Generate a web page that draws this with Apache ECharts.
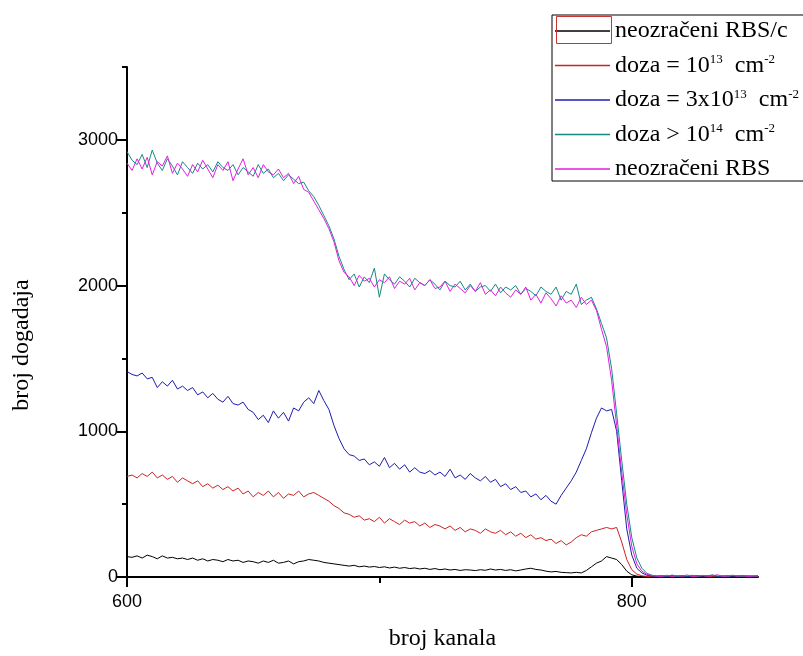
<!DOCTYPE html>
<html>
<head>
<meta charset="utf-8">
<script src="https://cdn.jsdelivr.net/npm/echarts@6/dist/echarts.min.js"></script>
<style>html,body{margin:0;padding:0;background:#fff}#c{width:803px;height:656px}</style>
</head>
<body>
<div id="c"></div>
<script>
// channel grid: 600..850, step 2
const CH_START = 600, CH_STEP = 2;

const seriesNames = [
  'neozračeni RBS/c',
  'doza = 10^13 cm^-2',
  'doza = 3x10^13 cm^-2',
  'doza > 10^14 cm^-2',
  'neozračeni RBS'
];

const xTickLabels = [600, 800];
const yTickLabels = [0, 1000, 2000, 3000];

// neozračeni RBS/c (black)
const rbsC = [
  140,135,145,130,150,140,125,145,130,135,
  125,130,120,130,115,125,110,120,115,105,
  120,110,115,100,110,105,95,110,100,115,
  95,100,110,90,105,110,120,115,110,100,
  95,90,85,80,75,80,70,75,68,72,
  65,70,62,68,60,65,58,62,55,60,
  52,58,50,55,48,52,45,50,48,44,
  50,46,55,48,52,45,50,42,48,55,
  60,52,48,40,35,38,32,30,28,32,
  28,45,70,95,110,140,130,120,85,40,
  15,6,3,2,1,1,1,0,2,0,
  1,0,1,2,0,1,0,1,0,2,
  1,0,1,0,1,0
];

// doza = 10^13 cm^-2 (red)
const doza13 = [
  690,700,680,710,690,720,680,700,670,690,
  650,680,660,640,660,620,640,610,630,600,
  620,590,610,570,590,550,580,560,590,550,
  580,540,570,560,590,550,570,580,560,540,
  520,490,470,440,430,410,420,390,400,380,
  410,370,400,380,360,390,370,380,350,370,
  340,360,350,330,350,320,340,310,330,320,
  300,330,310,300,320,290,310,280,300,270,
  290,260,270,250,260,230,250,220,240,270,
  290,280,310,320,330,340,330,340,240,120,
  50,20,8,4,2,2,3,1,4,2,
  0,3,2,5,1,2,4,0,3,2,
  1,4,2,3,1,2
];

// doza = 3x10^13 cm^-2 (blue)
const doza3x13 = [
  1410,1390,1380,1400,1360,1370,1300,1340,1310,1350,
  1290,1310,1280,1300,1250,1270,1230,1260,1220,1200,
  1240,1190,1180,1200,1150,1130,1080,1110,1060,1140,
  1090,1130,1070,1160,1140,1200,1230,1190,1280,1210,
  1150,1040,950,880,840,830,800,810,770,790,
  760,820,750,780,740,770,720,750,720,710,
  730,700,720,690,740,680,700,670,710,680,
  660,690,650,670,620,640,600,620,580,590,
  550,570,530,560,520,500,560,610,660,720,
  800,880,990,1090,1160,1140,1150,1000,660,330,
  150,60,28,12,8,5,8,4,11,6,
  9,3,7,10,5,8,12,4,6,9,
  5,7,10,4,6,8
];

// doza > 10^14 cm^-2 (teal)
const doza14 = [
  2920,2860,2830,2900,2810,2930,2840,2790,2870,2820,
  2760,2850,2810,2770,2840,2800,2830,2780,2850,2810,
  2790,2830,2760,2810,2780,2750,2830,2770,2800,2740,
  2770,2720,2760,2730,2700,2710,2650,2610,2550,2480,
  2410,2320,2200,2110,2040,2080,1990,2060,2020,2120,
  1920,2080,2040,2010,2060,2030,1990,2050,2020,2000,
  2040,2010,1970,2030,2000,1990,2030,1970,2010,1960,
  1990,2000,1960,2010,1950,1990,1970,2000,1940,1980,
  1960,1930,1990,1960,1940,1990,1900,1960,1940,2010,
  1870,1900,1920,1840,1740,1640,1430,1120,800,500,
  270,130,60,25,12,8,10,6,13,4,
  9,7,12,5,10,8,14,6,9,4,
  11,7,5,10,6,8
];

// neozračeni RBS (magenta)
const rbs = [
  2840,2790,2870,2800,2880,2760,2850,2820,2890,2770,
  2840,2800,2750,2830,2780,2860,2800,2740,2830,2790,
  2850,2720,2800,2870,2760,2810,2740,2830,2780,2760,
  2800,2740,2770,2700,2750,2660,2640,2580,2520,2460,
  2390,2300,2170,2090,2060,2000,2070,2030,2050,1990,
  2040,2020,2060,1980,2030,2010,2050,1970,2020,2000,
  2040,1980,1990,2030,1960,2010,1980,1950,2000,1960,
  2020,1940,1970,1930,1990,1950,1920,1970,1940,1990,
  1900,1940,1880,1950,1910,1860,1930,1880,1900,1850,
  1920,1870,1900,1830,1700,1580,1350,1040,720,430,
  210,90,40,18,10,6,5,12,4,10,
  6,14,3,8,11,5,9,15,4,7,
  12,6,10,3,8,5
];

const allData = [rbsC, doza13, doza3x13, doza14, rbs];
const colors = ['#000000', '#cc2222', '#1c1cb0', '#138a80', '#e01ee0'];

const legendText = {
  'neozračeni RBS/c': '{t|neozračeni RBS/c}',
  'doza = 10^13 cm^-2': '{t|doza = 10}{s|13}{t|  cm}{s|-2}',
  'doza = 3x10^13 cm^-2': '{t|doza = 3x10}{s|13}{t|  cm}{s|-2}',
  'doza > 10^14 cm^-2': '{t|doza > 10}{s|14}{t|  cm}{s|-2}',
  'neozračeni RBS': '{t|neozračeni RBS}'
};

const toPairs = arr => arr.map((v, i) => [CH_START + i * CH_STEP, v]);

const chart = echarts.init(document.getElementById('c'), null, {renderer: 'canvas'});
const serif = 'Liberation Serif, Times New Roman, serif';
const sans = 'Liberation Sans, Arial, sans-serif';

chart.setOption({
  animation: false,
  backgroundColor: '#ffffff',
  grid: {left: 127, right: 45, top: 67, bottom: 77, containLabel: false},
  legend: {
    orient: 'vertical',
    left: 552,
    top: 15,
    padding: [4, 6, 0, 3],
    borderColor: '#000',
    borderWidth: 1,
    backgroundColor: '#fff',
    icon: 'rect',
    itemWidth: 55,
    itemHeight: 1.5,
    itemGap: 10.5,
    selectedMode: false,
    data: seriesNames,
    formatter: name => legendText[name],
    textStyle: {
      color: '#000',
      fontFamily: serif,
      fontSize: 24,
      lineHeight: 24,
      rich: {
        t: {fontFamily: serif, fontSize: 24, lineHeight: 24, color: '#000'},
        s: {fontFamily: serif, fontSize: 13, lineHeight: 11, verticalAlign: 'top', color: '#000'}
      }
    }
  },
  graphic: [{
    type: 'rect',
    shape: {x: 556.5, y: 16.5, width: 55, height: 27},
    style: {fill: 'none', stroke: '#cc3333', lineWidth: 1},
    z: 100
  }],
  xAxis: [{
    type: 'value',
    min: 600, max: 850, interval: 200,
    name: 'broj kanala',
    nameLocation: 'middle',
    nameGap: 50,
    nameTextStyle: {fontFamily: serif, fontSize: 24, color: '#000'},
    axisLine: {show: true, onZero: false, lineStyle: {color: '#000', width: 2}},
    axisTick: {show: true, inside: false, length: 10, lineStyle: {color: '#000', width: 2}, customValues: [600, 800]},
    axisLabel: {show: true, margin: 16, fontFamily: sans, fontSize: 18, color: '#000', customValues: xTickLabels, formatter: v => String(v)},
    splitLine: {show: false}
  }, {
    type: 'value',
    min: 600, max: 850, interval: 200,
    position: 'bottom',
    axisLine: {show: false, onZero: false},
    axisTick: {show: true, length: 6, lineStyle: {color: '#000', width: 2}, customValues: [700]},
    axisLabel: {show: false},
    splitLine: {show: false}
  }],
  yAxis: [{
    type: 'value',
    min: 0, max: 3500, interval: 1000,
    name: 'broj dogadaja',
    nameLocation: 'middle',
    nameGap: 93,
    nameRotate: 90,
    nameTextStyle: {fontFamily: serif, fontSize: 24, color: '#000', padding: [0, 46, 0, 0]},
    axisLine: {show: true, onZero: false, lineStyle: {color: '#000', width: 2}},
    axisTick: {show: true, length: 10, lineStyle: {color: '#000', width: 2}, customValues: [0, 1000, 2000, 3000]},
    axisLabel: {show: true, margin: 9, fontFamily: sans, fontSize: 18, color: '#000', customValues: yTickLabels, formatter: v => String(v)},
    splitLine: {show: false}
  }, {
    type: 'value',
    min: 0, max: 3500, interval: 1000,
    position: 'left',
    axisLine: {show: false, onZero: false},
    axisTick: {show: true, length: 5, lineStyle: {color: '#000', width: 2}, customValues: [500, 1500, 2500, 3500]},
    axisLabel: {show: false},
    splitLine: {show: false}
  }],
  series: seriesNames.map((name, i) => ({
    name: name,
    type: 'line',
    xAxisIndex: 0,
    yAxisIndex: 0,
    data: toPairs(allData[i]),
    symbol: 'none',
    showSymbol: false,
    clip: true,
    lineStyle: {color: colors[i], width: 1},
    itemStyle: {color: colors[i]},
    emphasis: {disabled: true}
  }))
});
</script>
</body>
</html>
